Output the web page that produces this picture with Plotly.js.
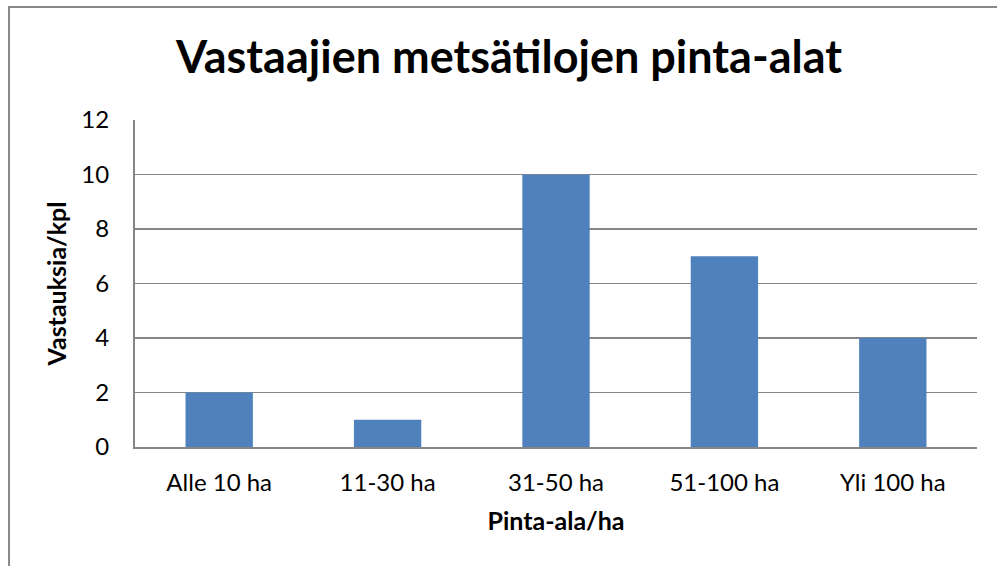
<!DOCTYPE html>
<html><head><meta charset="utf-8">
<script src="https://cdn.plot.ly/plotly-3.0.1.min.js"></script>
<style>html,body{margin:0;padding:0;background:#fff}#chart{width:997px;height:566px}</style>
</head><body><div id="chart"></div>
<script>
const categories = ["Alle 10 ha", "11-30 ha", "31-50 ha", "51-100 ha", "Yli 100 ha"];
const values = [2, 1, 10, 7, 4];
const yTicks = [0, 2, 4, 6, 8, 10, 12];

const FONT = "Lato, 'Open Sans', sans-serif";
const data = [{
  type: "bar", x: categories, y: values,
  marker: {color: "#4F81BD"}, hoverinfo: "x+y"
}];
const layout = {
  width: 997, height: 566,
  margin: {l: 135, r: 20, t: 120, b: 119},
  paper_bgcolor: "#fff", plot_bgcolor: "#fff",
  bargap: 0.6,
  showlegend: false,
  font: {family: FONT, color: "#000", size: 24},
  title: {text: "<b>Vastaajien metsätilojen pinta-alat</b>", font: {family: FONT, size: 45, color: "#000"},
          x: 0.5105, xref: "container", xanchor: "center", y: 0.898, yref: "container", yanchor: "middle"},
  xaxis: {
    type: "category", showgrid: false, zeroline: false,
    showline: true, linecolor: "#868686", linewidth: 2, mirror: false,
    ticks: "", ticklabelstandoff: 13,
    tickfont: {family: FONT, size: 24, color: "#000"},
    title: {text: "<b>Pinta-ala/ha</b>", font: {family: FONT, size: 25, color: "#000"}, standoff: 18}
  },
  yaxis: {
    range: [0, 12], tickvals: yTicks, ticktext: yTicks.map(String),
    showgrid: true, gridcolor: "#868686", gridwidth: 1.5, zeroline: false,
    showline: true, linecolor: "#868686", linewidth: 2,
    ticks: "", ticklabelstandoff: 19,
    tickfont: {family: FONT, size: 24, color: "#000"},
    title: {text: "<b>Vastauksia/kpl</b>", font: {family: FONT, size: 25, color: "#000"}, standoff: 8}
  },
  shapes: [{
    type: "rect", xref: "paper", yref: "paper", layer: "below",
    x0: -0.1496, x1: 1.2, y0: -0.6, y1: 1.3456,
    line: {color: "#888888", width: 2}, fillcolor: "rgba(0,0,0,0)"
  }]
};
Plotly.newPlot("chart", data, layout, {displayModeBar: false, staticPlot: true});
</script></body></html>
